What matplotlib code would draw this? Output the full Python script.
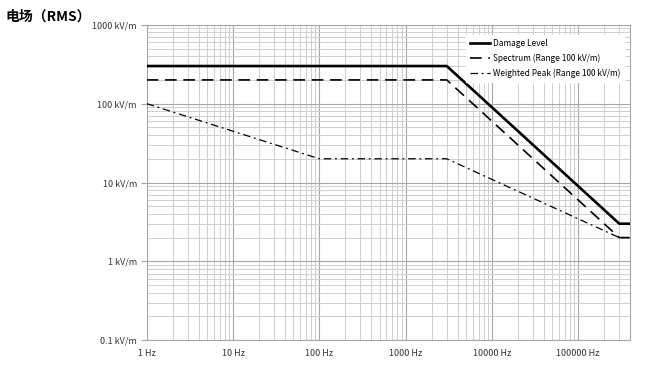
import matplotlib.pyplot as plt
from matplotlib.ticker import LogLocator, FixedLocator, NullFormatter

plt.rcParams['font.family'] = ['Noto Sans CJK SC', 'DejaVu Sans']

# frequency break points (Hz) and field strength (kV/m)
damage_f = [1, 3000, 300000, 400000]
damage_v = [300, 300, 3, 3]
spectrum_f = [1, 3000, 300000, 400000]
spectrum_v = [200, 200, 2, 2]
peak_f = [1, 100, 3000, 300000, 400000]
peak_v = [100, 20, 20, 2, 2]

x_ticks = [1, 10, 100, 1000, 10000, 100000]
x_labels = ['1 Hz', '10 Hz', '100 Hz', '1000 Hz', '10000 Hz', '100000 Hz']
y_ticks = [0.1, 1, 10, 100, 1000]
y_labels = ['0.1 kV/m', '1 kV/m', '10 kV/m', '100 kV/m', '1000 kV/m']

fig = plt.figure(figsize=(6.55, 3.65), dpi=100)
ax = fig.add_axes([0.224, 0.068, 0.738, 0.864])

ax.plot(damage_f, damage_v, color='black', lw=1.9, label='Damage Level', zorder=4)
ax.plot(spectrum_f, spectrum_v, color='black', lw=1.2, ls=(0, (7, 4)),
        label='Spectrum (Range 100 kV/m)', zorder=3)
ax.plot(peak_f, peak_v, color='black', lw=0.9, ls=(0, (6, 3, 1.5, 3)),
        label='Weighted Peak (Range 100 kV/m)', zorder=3)

ax.set_xscale('log')
ax.set_yscale('log')
ax.set_xlim(1, 400000)
ax.set_ylim(0.1, 1000)

ax.xaxis.set_major_locator(FixedLocator(x_ticks))
ax.set_xticklabels(x_labels)
ax.yaxis.set_major_locator(FixedLocator(y_ticks))
ax.set_yticklabels(y_labels)
ax.xaxis.set_minor_locator(LogLocator(base=10, subs=range(2, 10), numticks=20))
ax.yaxis.set_minor_locator(LogLocator(base=10, subs=range(2, 10), numticks=20))
ax.xaxis.set_minor_formatter(NullFormatter())
ax.yaxis.set_minor_formatter(NullFormatter())

ax.grid(which='major', color='#a6a6a6', lw=0.8)
ax.grid(which='minor', color='#cfcfcf', lw=0.7)
ax.set_axisbelow(True)

ax.tick_params(axis='both', which='both', labelsize=6.5, colors='#333333')
ax.tick_params(axis='x', which='both', length=0, pad=6)
ax.tick_params(axis='y', which='major', length=4, color='#a6a6a6', pad=3)
ax.tick_params(axis='y', which='minor', length=0)
for s in ax.spines.values():
    s.set_color('#a6a6a6')
    s.set_linewidth(0.8)

leg = ax.legend(loc='upper right', fontsize=6, frameon=True, fancybox=False,
                edgecolor='white', framealpha=1, handlelength=2.4,
                handletextpad=0.4, borderpad=0.45, labelspacing=0.7,
                bbox_to_anchor=(0.997, 0.98))

fig.text(0.008, 0.975, '电场（RMS）', fontsize=10, fontweight='bold', va='top', ha='left')

plt.savefig('out.png', dpi=100)
